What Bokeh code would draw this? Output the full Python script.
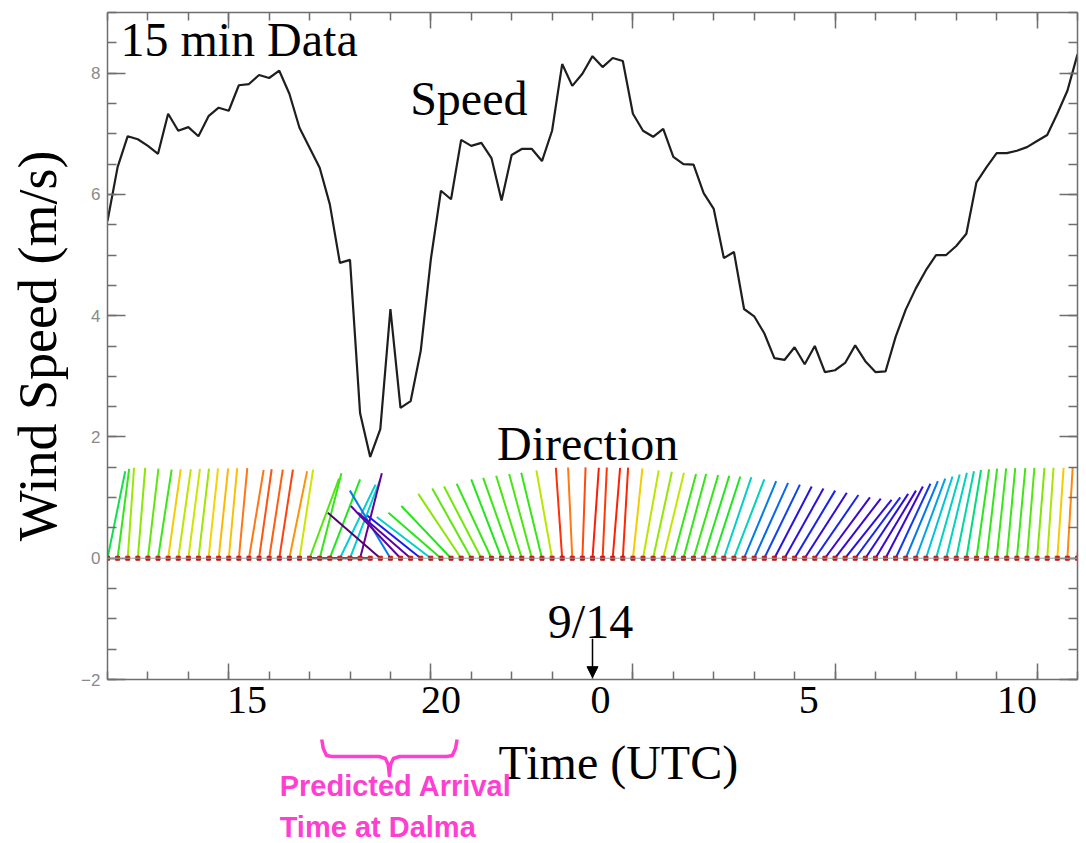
import math
from bokeh.plotting import figure
from bokeh.layouts import column
from bokeh.models import (Range1d, LinearAxis, FixedTicker, Label, Arrow, NormalHead,
                          ColumnDataSource, LinearColorMapper, Span, CustomJSTickFormatter)
from bokeh.core.properties import value
from bokeh.embed import file_html
from bokeh.resources import INLINE

# ---------------- data ----------------
START_HOUR = 12.0          # first sample, UTC hour of 9/13
STEP_H = 0.25              # 15-minute data
speed = [5.56, 6.45, 6.96, 6.91, 6.80, 6.67, 7.33, 7.05, 7.11, 6.96,
         7.29, 7.43, 7.38, 7.80, 7.82, 7.97, 7.92, 8.04, 7.66, 7.10,
         6.77, 6.44, 5.84, 4.87, 4.92, 2.39, 1.67, 2.13, 4.11, 2.48,
         2.59, 3.42, 4.93, 6.06, 5.92, 6.90, 6.80, 6.85, 6.60, 5.90,
         6.65, 6.75, 6.75, 6.55, 7.05, 8.15, 7.79, 7.99, 8.28, 8.10,
         8.25, 8.20, 7.33, 7.05, 6.95, 7.08, 6.62, 6.50, 6.49, 6.02,
         5.76, 4.95, 5.05, 4.11, 3.99, 3.71, 3.30, 3.27, 3.48, 3.20,
         3.50, 3.07, 3.10, 3.22, 3.51, 3.25, 3.07, 3.08, 3.65, 4.10,
         4.45, 4.75, 5.00, 5.00, 5.15, 5.35, 6.20, 6.45, 6.68, 6.68,
         6.72, 6.78, 6.88, 6.98, 7.33, 7.71, 8.31]
# stick angle from vertical (deg, + = leaning right) = wind direction - 180
stick_angle = [17, 11, 6, 7, 10, 13, 12, 12, 11, 10,
               9, 9, 8, 8, 14, 12, 13, 13, 17, 13,
               29, 21, 30, 36, 30, 21, -90, -60, -42, -55,
               -60, -62, -63, -60, -55, -45, -40, -38, -35, -30,
               -28, -25, -22, -20, -15, -6, -4, 3, 6, 4,
               7, 5, 9, 15, 18, 20, 22, 22, 24, 25,
               26, 27, 30, 32, 34, 36, 38, 40, 42, 44,
               46, 48, 49, 50, 48, 45, 42, 38, 35, 32,
               29, 26, 23, 20, 17, 14, 12, 10, 9, 8,
               8, 7, 7, 6, 6, 5, 5]
wind_dir = [(180 + a) % 360 for a in stick_angle]
x_label_pos = [15.45, 20.25, 24.2, 29.35, 34.5]
x_label_txt = ["15", "20", "0", "5", "10"]
arrival_window = [17.3, 20.65]
date_mark_hour = 24.0

STICK_LEN = 1.5
times = [START_HOUR + STEP_H * i for i in range(len(speed))]
x1 = [t + STICK_LEN * math.sin(math.radians(d - 180)) for t, d in zip(times, wind_dir)]
y1 = [STICK_LEN * math.cos(math.radians(d - 180)) for d in wind_dir]

# IDL-rainbow-like palette (black -> purple -> blue -> cyan -> green -> yellow -> red)
anchors = [(0.00, (0, 0, 0)), (0.10, (105, 0, 145)), (0.20, (70, 0, 205)),
           (0.27, (25, 25, 240)), (0.38, (0, 130, 240)), (0.48, (0, 205, 220)),
           (0.56, (0, 220, 120)), (0.62, (30, 230, 30)), (0.76, (60, 230, 20)),
           (0.80, (170, 230, 0)), (0.83, (235, 230, 0)), (0.87, (255, 180, 0)),
           (0.92, (255, 120, 20)), (0.96, (255, 60, 10)), (1.00, (255, 20, 0))]
palette = []
for k in range(256):
    f = k / 255
    for (f0, c0), (f1, c1) in zip(anchors[:-1], anchors[1:]):
        if f0 <= f <= f1:
            w = (f - f0) / (f1 - f0)
            rgb = [round(a + (b - a) * w) for a, b in zip(c0, c1)]
            palette.append("#%02x%02x%02x" % tuple(rgb))
            break
mapper = LinearColorMapper(palette=palette, low=1.6, high=8.35)

src = ColumnDataSource(dict(t=times, zero=[0.0] * len(times), x1=x1, y1=y1,
                            speed=speed))

# ---------------- main figure ----------------
FIG1_BOTTOM = 54
p = figure(frame_width=970, frame_height=667, x_range=Range1d(12, 36),
           y_range=Range1d(-2, 9), output_backend="svg", toolbar_location=None,
           x_axis_type=None, y_axis_type=None,
           min_border_left=107, min_border_right=9, min_border_top=12,
           min_border_bottom=FIG1_BOTTOM, background_fill_color="white",
           border_fill_color="white", outline_line_color=None)
p.grid.visible = False

AX = "#6e6e6e"
minor_x = [h for h in range(12, 37)]
minor_y = [-2 + 0.5 * k for k in range(23)]


def style_ticks(ax, major_in, minor_in):
    ax.axis_line_color = AX
    ax.axis_line_width = 1.5
    ax.major_tick_line_color = AX
    ax.minor_tick_line_color = AX
    ax.major_tick_line_width = 1.5
    ax.minor_tick_line_width = 1.5
    ax.major_tick_in = major_in
    ax.major_tick_out = 0
    ax.minor_tick_in = minor_in
    ax.minor_tick_out = 0


def ticks_only(ax):
    ax.formatter = CustomJSTickFormatter(code="return ''")
    ax.major_label_text_font_size = "1px"
    ax.major_label_standoff = 0


yl = LinearAxis(ticker=FixedTicker(ticks=[-2, 0, 2, 4, 6, 8], minor_ticks=minor_y),
                axis_label="Wind Speed (m/s)")
style_ticks(yl, 18, 9)
yl.major_label_text_font = "Liberation Sans"
yl.major_label_text_font_size = "17px"
yl.major_label_text_color = "#8a8a8a"
yl.major_label_standoff = 7
yl.axis_label_text_font = "Liberation Serif"
yl.axis_label_text_font_size = "54px"
yl.axis_label_text_font_style = "normal"
yl.axis_label_text_color = "black"
yl.axis_label_standoff = 10
p.add_layout(yl, "left")

yr = LinearAxis(ticker=FixedTicker(ticks=[-2, 0, 2, 4, 6, 8], minor_ticks=minor_y))
style_ticks(yr, 18, 9)
ticks_only(yr)
p.add_layout(yr, "right")

xb = LinearAxis(ticker=FixedTicker(ticks=[15, 20, 25, 30, 35], minor_ticks=minor_x))
style_ticks(xb, 16, 8)
ticks_only(xb)
p.add_layout(xb, "below")

xlab = LinearAxis(ticker=FixedTicker(ticks=x_label_pos, minor_ticks=[]))
xlab.major_label_overrides = {v: s for v, s in zip(x_label_pos, x_label_txt)}
xlab.axis_line_color = None
xlab.major_tick_line_color = None
xlab.minor_tick_line_color = None
xlab.major_tick_in = 0
xlab.major_tick_out = 0
xlab.major_label_standoff = 7
xlab.major_label_text_font = "Liberation Serif"
xlab.major_label_text_font_size = "40px"
xlab.major_label_text_color = "black"
p.add_layout(xlab, "below")

xt = LinearAxis(ticker=FixedTicker(ticks=[15, 20, 25, 30, 35], minor_ticks=minor_x))
style_ticks(xt, 16, 8)
ticks_only(xt)
p.add_layout(xt, "above")

p.add_layout(Span(location=0, dimension="width", line_color="#9a9a9a", line_width=1))
p.segment(x0="t", y0="zero", x1="x1", y1="y1", source=src, line_width=2,
          line_color={"field": "speed", "transform": mapper})
p.scatter(x="t", y="zero", source=src, size=4, color="#c81414", marker="square")
p.line(x="t", y="speed", source=src, line_color="#1e1e1e", line_width=2.2)

SERIF = "Liberation Serif"


def big_label(x, y, text, align):
    p.add_layout(Label(x=x, y=y, text=text, text_font=SERIF, text_font_size="48px",
                       text_color="black", text_baseline="alphabetic", text_align=align))


big_label(12.32, 8.55, "15 min Data", "left")
big_label(20.94, 7.58, "Speed", "center")
big_label(23.88, 1.90, "Direction", "center")
big_label(date_mark_hour - 0.05, -1.05, "9/14", "center")
p.add_layout(Arrow(x_start=date_mark_hour, y_start=-1.33, x_end=date_mark_hour, y_end=-1.97,
                   line_width=1.5, line_color="black",
                   end=NormalHead(size=11, fill_color="black", line_color="black")))

# ---------------- strip under the axis: axis title and arrival annotation ----------------
STRIP_H = 843 - (12 + 667 + FIG1_BOTTOM)
q = figure(frame_width=970, frame_height=STRIP_H, x_range=p.x_range,
           y_range=Range1d(STRIP_H, 0), output_backend="svg", toolbar_location=None,
           x_axis_type=None, y_axis_type=None, min_border_left=107, min_border_right=9,
           min_border_top=0, min_border_bottom=0, outline_line_color=None,
           background_fill_color="white", border_fill_color="white")
q.grid.visible = False

MAG = "#ff3fd2"
a0, a1 = arrival_window
mid = (a0 + a1) / 2
yt, yh, ytip = 6, 23, 42
bx = [a0, a0 + 0.04, a0 + 0.12, a0 + 0.25, mid - 0.25, mid - 0.1, mid - 0.03, mid,
      mid + 0.03, mid + 0.1, mid + 0.25, a1 - 0.25, a1 - 0.12, a1 - 0.04, a1]
by = [yt, yt + 9, yh - 1, yh, yh, yh + 2, yh + 8, ytip,
      yh + 8, yh + 2, yh, yh, yh - 1, yt + 9, yt]
q.line(bx, by, line_color=MAG, line_width=3.5, line_join="round")

q.text(x=[24.64], y=[29], text=["Time (UTC)"], text_font=value(SERIF),
       text_font_size="48px", text_color="black", text_align="center",
       text_baseline="middle")
q.text(x=[16.26, 16.26], y=[52.5, 93], text=["Predicted Arrival", "Time at Dalma"],
       text_font=value("Liberation Sans"), text_font_style="bold",
       text_font_size="29px", text_color=MAG, text_align="left", text_baseline="middle")

layout = column(p, q, spacing=0)
open("out.html", "w").write(file_html(layout, INLINE))
